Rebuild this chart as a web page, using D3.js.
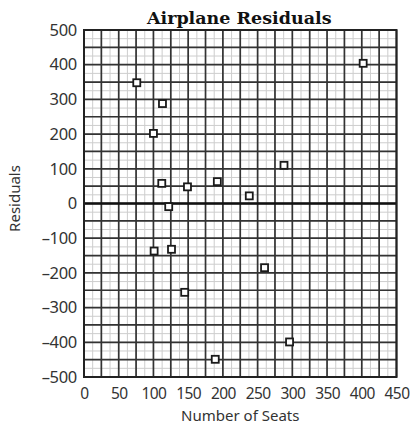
<!DOCTYPE html>
<html>
<head>
<meta charset="utf-8">
<script src="https://cdn.jsdelivr.net/npm/d3@7"></script>
<style>
  body { margin: 0; background: #fff; }
  text { font-family: "Noto Sans", "Open Sans", sans-serif; fill: #333; }
</style>
</head>
<body>
<div id="chart"></div>
<script>
// data
var seats     = [76, 113, 100, 112, 122, 149, 192, 238, 288, 101, 126, 260, 145, 189, 296, 402];
var residuals = [348, 288, 202, 58, -9, 48, 63, 22, 110, -137, -132, -185, -256, -449, -399, 404];
var xTicks = [0, 50, 100, 150, 200, 250, 300, 350, 400, 450];
var yTicks = [-500, -400, -300, -200, -100, 0, 100, 200, 300, 400, 500];

var W = 411, H = 428;
var margin = {top: 30, right: 14.5, bottom: 51, left: 84};
var width = W - margin.left - margin.right,
    height = H - margin.top - margin.bottom;

var svg = d3.select("#chart").append("svg")
    .attr("width", W).attr("height", H);
var g = svg.append("g")
    .attr("transform", "translate(" + margin.left + "," + margin.top + ")");

var x = d3.scaleLinear().domain([0, 450]).range([0, width]);
var y = d3.scaleLinear().domain([-500, 500]).range([height, 0]);

// light grid
g.append("g").selectAll("line").data(d3.range(0, 450.1, 12.5)).join("line")
    .attr("x1", d => x(d)).attr("x2", d => x(d)).attr("y1", 0).attr("y2", height)
    .attr("stroke", "#cdcdcd").attr("stroke-width", 1);
g.append("g").selectAll("line").data(d3.range(-500, 500.1, 25)).join("line")
    .attr("y1", d => y(d)).attr("y2", d => y(d)).attr("x1", 0).attr("x2", width)
    .attr("stroke", "#cdcdcd").attr("stroke-width", 1);

// dark grid
g.append("g").selectAll("line").data(d3.range(0, 450.1, 25)).join("line")
    .attr("x1", d => x(d)).attr("x2", d => x(d)).attr("y1", 0).attr("y2", height)
    .attr("stroke", "#333").attr("stroke-width", 1.7);
g.append("g").selectAll("line").data(d3.range(-500, 500.1, 50)).join("line")
    .attr("y1", d => y(d)).attr("y2", d => y(d)).attr("x1", 0).attr("x2", width)
    .attr("stroke", "#333").attr("stroke-width", 1.7);

// zero line and border
g.append("line").attr("x1", 0).attr("x2", width).attr("y1", y(0)).attr("y2", y(0))
    .attr("stroke", "#111").attr("stroke-width", 2.6);
g.append("rect").attr("width", width).attr("height", height)
    .attr("fill", "none").attr("stroke", "#222").attr("stroke-width", 2);

// axes (labels only)
var xAxis = g.append("g").attr("transform", "translate(0," + height + ")")
    .call(d3.axisBottom(x).tickValues(xTicks).tickSize(0).tickPadding(11));
var yAxis = g.append("g")
    .call(d3.axisLeft(y).tickValues(yTicks).tickSize(0).tickPadding(7)
      .tickFormat(d => d < 0 ? "\u2013" + Math.abs(d) : d));
[xAxis, yAxis].forEach(a => {
    a.select(".domain").remove();
    a.selectAll("text").style("font-family", "'Noto Sans', sans-serif").attr("fill", "#3a3a3a");
});
xAxis.selectAll("text").style("font-size", "15.5px").attr("letter-spacing", "-0.6");
yAxis.selectAll("text").style("font-size", "16.5px").attr("letter-spacing", "-0.3");

// points
g.append("g").selectAll("rect").data(seats).join("rect")
    .attr("x", (d, i) => x(d) - 3.5)
    .attr("y", (d, i) => y(residuals[i]) - 3.5)
    .attr("width", 7).attr("height", 7)
    .attr("fill", "#fff").attr("stroke", "#1a1a1a").attr("stroke-width", 1.8);

// titles
svg.append("text").attr("x", margin.left + width / 2 - 1).attr("y", 24)
    .attr("text-anchor", "middle")
    .style("font-family", "'DejaVu Serif', serif").style("font-weight", "bold")
    .style("font-size", "17.5px").style("fill", "#111")
    .text("Airplane Residuals");

svg.append("text").attr("x", margin.left + width / 2).attr("y", 421)
    .attr("text-anchor", "middle").style("font-size", "15px")
    .text("Number of Seats");

svg.append("text")
    .attr("transform", "translate(20," + (margin.top + height / 2 - 5) + ") rotate(-90)")
    .attr("text-anchor", "middle").style("font-size", "15px")
    .text("Residuals");
</script>
</body>
</html>
